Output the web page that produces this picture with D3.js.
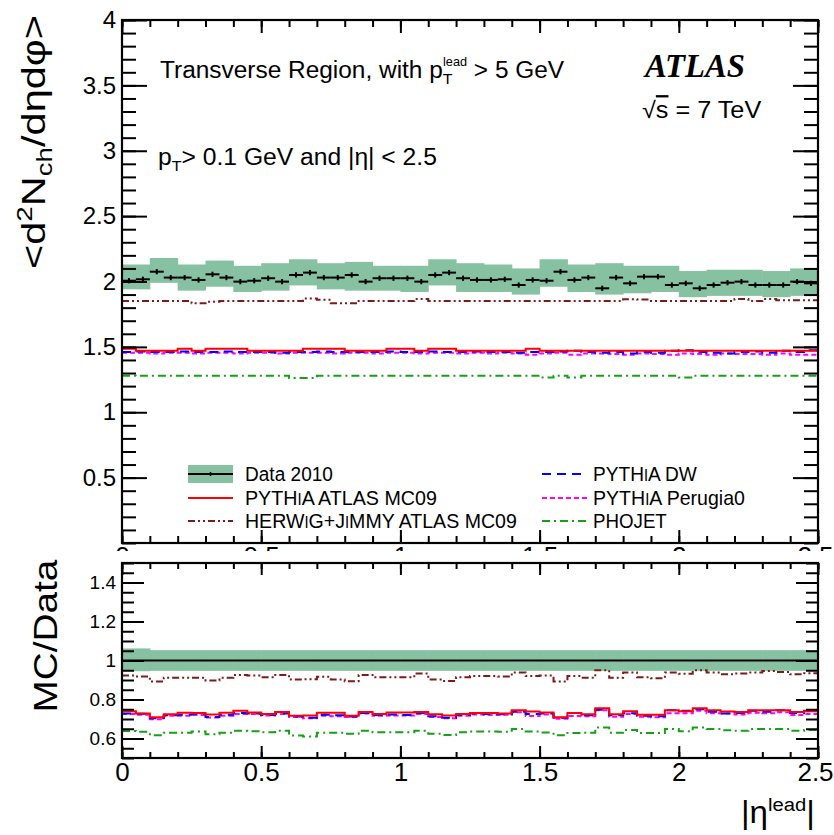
<!DOCTYPE html>
<html>
<head>
<meta charset="utf-8">
<script src="https://cdn.jsdelivr.net/npm/d3@7"></script>
<style>
  body { margin: 0; background: #fff; }
  text { font-family: "Liberation Sans", Arial, Helvetica, sans-serif; fill: #000; }
</style>
</head>
<body>
<div id="chart"></div>
<script>
// ---- data ----
// 50 bins of |eta_lead|, width 0.05
const etaBins = d3.range(50).map(i => +(i * 0.05).toFixed(2));
const binWidth = 0.05;

const dataVal = [
  2.006, 2.017, 2.075, 2.030, 2.030, 2.012, 2.055, 2.030, 1.999, 2.006,
  2.025, 1.999, 2.050, 2.068, 2.030, 2.030, 2.050, 1.999, 2.025, 2.025,
  2.025, 1.999, 2.050, 2.068, 2.025, 2.012, 2.012, 2.017, 1.973, 2.012,
  2.006, 2.075, 2.012, 2.030, 1.948, 2.030, 1.986, 2.037, 2.037, 1.973,
  1.986, 1.948, 1.973, 1.991, 1.999, 1.973, 1.973, 1.973, 1.999, 1.986
];
const statErr = 0.02;

// systematic band, steps of 0.1 in |eta_lead|
const bandEdges = d3.range(25).map(i => +(i * 0.1).toFixed(1));
const bandLo = [1.94, 1.99, 1.93, 1.96, 1.92, 1.93, 1.97, 1.94, 1.93, 1.93,
                1.92, 1.97, 1.92, 1.92, 1.90, 1.96, 1.92, 1.90, 1.91, 1.92,
                1.88, 1.89, 1.89, 1.88, 1.89];
const bandHi = [2.13, 2.18, 2.13, 2.16, 2.12, 2.14, 2.17, 2.14, 2.15, 2.12,
                2.12, 2.17, 2.14, 2.13, 2.10, 2.17, 2.13, 2.14, 2.12, 2.12,
                2.08, 2.09, 2.09, 2.08, 2.10];
const ratioBandLo = [0.945, 0.947, 0.947, 0.947, 0.947, 0.947, 0.947, 0.947, 0.947, 0.947,
                     0.947, 0.947, 0.947, 0.947, 0.947, 0.947, 0.947, 0.947, 0.947, 0.947,
                     0.947, 0.947, 0.947, 0.947, 0.947];
const ratioBandHi = [1.062, 1.053, 1.053, 1.053, 1.053, 1.053, 1.053, 1.053, 1.053, 1.053,
                     1.053, 1.053, 1.053, 1.053, 1.053, 1.053, 1.053, 1.053, 1.053, 1.053,
                     1.053, 1.053, 1.053, 1.053, 1.053];

const pythiaMC09 = [
  1.485, 1.470, 1.470, 1.470, 1.485, 1.470, 1.485, 1.485, 1.485, 1.470,
  1.470, 1.470, 1.470, 1.485, 1.485, 1.485, 1.470, 1.470, 1.470, 1.485,
  1.485, 1.470, 1.485, 1.485, 1.470, 1.470, 1.470, 1.470, 1.470, 1.485,
  1.470, 1.470, 1.470, 1.470, 1.470, 1.470, 1.470, 1.470, 1.470, 1.470,
  1.470, 1.470, 1.470, 1.470, 1.470, 1.470, 1.470, 1.470, 1.470, 1.470
];
const herwigMC09 = [
  1.851, 1.851, 1.851, 1.851, 1.851, 1.833, 1.845, 1.851, 1.851, 1.851,
  1.851, 1.851, 1.851, 1.870, 1.860, 1.833, 1.833, 1.851, 1.851, 1.851,
  1.851, 1.866, 1.851, 1.851, 1.851, 1.851, 1.851, 1.851, 1.851, 1.851,
  1.851, 1.851, 1.851, 1.851, 1.851, 1.851, 1.865, 1.862, 1.851, 1.851,
  1.851, 1.851, 1.851, 1.851, 1.866, 1.851, 1.866, 1.857, 1.857, 1.857
];
const pythiaDW = [
  1.460, 1.465, 1.460, 1.460, 1.465, 1.460, 1.460, 1.465, 1.460, 1.460,
  1.460, 1.455, 1.460, 1.460, 1.465, 1.460, 1.460, 1.460, 1.460, 1.465,
  1.460, 1.460, 1.465, 1.460, 1.460, 1.465, 1.460, 1.460, 1.455, 1.460,
  1.460, 1.465, 1.470, 1.460, 1.455, 1.460, 1.450, 1.460, 1.455, 1.470,
  1.475, 1.460, 1.455, 1.450, 1.460, 1.465, 1.455, 1.470, 1.460, 1.475
];
const pythiaPerugia0 = [
  1.455, 1.455, 1.450, 1.455, 1.455, 1.450, 1.455, 1.455, 1.450, 1.455,
  1.455, 1.450, 1.455, 1.455, 1.455, 1.450, 1.455, 1.455, 1.450, 1.455,
  1.455, 1.450, 1.455, 1.455, 1.450, 1.455, 1.450, 1.455, 1.450, 1.440,
  1.450, 1.455, 1.440, 1.450, 1.450, 1.445, 1.440, 1.450, 1.445, 1.440,
  1.450, 1.445, 1.440, 1.450, 1.445, 1.445, 1.440, 1.450, 1.440, 1.440
];
const phojet = [
  1.280, 1.279, 1.279, 1.279, 1.279, 1.279, 1.279, 1.279, 1.279, 1.279,
  1.279, 1.279, 1.262, 1.262, 1.279, 1.279, 1.279, 1.279, 1.279, 1.279,
  1.279, 1.279, 1.279, 1.279, 1.279, 1.279, 1.279, 1.279, 1.279, 1.279,
  1.265, 1.279, 1.265, 1.279, 1.279, 1.279, 1.279, 1.279, 1.279, 1.279,
  1.265, 1.279, 1.279, 1.279, 1.279, 1.279, 1.279, 1.279, 1.279, 1.279
];

const xTicks = [0, 0.5, 1, 1.5, 2, 2.5];
const topYTicks = [0.5, 1, 1.5, 2, 2.5, 3, 3.5, 4];
const botYTicks = [0.6, 0.8, 1, 1.2, 1.4];

// ---- styles ----
const mcSeries = [
  { name: "PYTHIA ATLAS MC09",       values: pythiaMC09,     color: "#ff0000", dash: null },
  { name: "HERWIG+JIMMY ATLAS MC09", values: herwigMC09,     color: "#7d1a1a", dash: "7,3,2,3,2,3" },
  { name: "PYTHIA DW",               values: pythiaDW,       color: "#0000ff", dash: "9,6" },
  { name: "PYTHIA Perugia0",         values: pythiaPerugia0, color: "#ff00ff", dash: "5,3" },
  { name: "PHOJET",                  values: phojet,         color: "#16a016", dash: "8,4,2,4" }
];
const bandColor = "#86c1a1";

const width = 834, height = 835;
const svg = d3.select("#chart").append("svg")
  .attr("width", width).attr("height", height);

const x = d3.scaleLinear().domain([0, 2.5]).range([122, 818]);
const yTop = d3.scaleLinear().domain([0, 4]).range([543, 20]);
const yBot = d3.scaleLinear().domain([0.5, 1.5]).range([758, 563]);

// step path over bins
function stepPath(vals, y) {
  const pts = etaBins.map((e, i) => [e, vals[i]]);
  pts.push([2.5, vals[vals.length - 1]]);
  return d3.line().x(d => x(d[0])).y(d => y(d[1])).curve(d3.curveStepAfter)(pts);
}

// ---- top panel ----
const topG = svg.append("g");

topG.selectAll("rect.band").data(bandEdges).join("rect")
  .attr("class", "band")
  .attr("x", d => x(d))
  .attr("width", x(0.1) - x(0) + 0.5)
  .attr("y", (d, i) => yTop(bandHi[i]))
  .attr("height", (d, i) => yTop(bandLo[i]) - yTop(bandHi[i]))
  .attr("fill", bandColor);

mcSeries.slice().reverse().forEach(s => {
  topG.append("path")
    .attr("d", stepPath(s.values, yTop))
    .attr("fill", "none")
    .attr("stroke", s.color)
    .attr("stroke-width", 2)
    .attr("stroke-dasharray", s.dash);
});

// data points
const pts = topG.append("g").attr("stroke", "#000").attr("stroke-width", 2);
pts.selectAll("line.h").data(etaBins).join("line").attr("class", "h")
  .attr("x1", d => x(d)).attr("x2", d => x(d + binWidth))
  .attr("y1", (d, i) => yTop(dataVal[i])).attr("y2", (d, i) => yTop(dataVal[i]));
pts.selectAll("line.v").data(etaBins).join("line").attr("class", "v")
  .attr("x1", d => x(d + binWidth / 2)).attr("x2", d => x(d + binWidth / 2))
  .attr("y1", (d, i) => yTop(dataVal[i] - statErr)).attr("y2", (d, i) => yTop(dataVal[i] + statErr));

// ---- bottom panel ----
const botG = svg.append("g");
botG.selectAll("rect.band").data(bandEdges).join("rect")
  .attr("class", "band")
  .attr("x", d => x(d))
  .attr("width", x(0.1) - x(0) + 0.5)
  .attr("y", (d, i) => yBot(ratioBandHi[i]))
  .attr("height", (d, i) => yBot(ratioBandLo[i]) - yBot(ratioBandHi[i]))
  .attr("fill", bandColor);

botG.append("path")
  .attr("d", stepPath(dataVal.map(() => 1), yBot))
  .attr("fill", "none").attr("stroke", "#000").attr("stroke-width", 2);

mcSeries.slice().reverse().forEach(s => {
  botG.append("path")
    .attr("d", stepPath(s.values.map((v, i) => v / dataVal[i]), yBot))
    .attr("fill", "none")
    .attr("stroke", s.color)
    .attr("stroke-width", 2)
    .attr("stroke-dasharray", s.dash);
});

// ---- axes / frames ----
function minorTicks(lo, hi, step) {
  return d3.range(Math.round((hi - lo) / step) + 1).map(i => +(lo + i * step).toFixed(3));
}
function styleAxis(g) {
  g.select(".domain").remove();
  g.selectAll(".tick line").attr("stroke", "#000").attr("stroke-width", 2);
  return g;
}

function panelAxes(y, yMajor, yMinor, yLabelVals, yFont, yMaj, yMin, xMaj, xMin, x0, x1, y0, y1, opt) {
  const fmt = d3.format("~g");
  // left
  svg.append("g").attr("transform", `translate(${x0},0)`)
    .call(d3.axisLeft(y).tickValues(yMinor).tickSizeInner(-yMin).tickSizeOuter(0).tickFormat(""))
    .call(styleAxis);
  svg.append("g").attr("transform", `translate(${x0},0)`)
    .call(d3.axisLeft(y).tickValues(yMajor).tickSizeInner(-yMaj).tickSizeOuter(0).tickPadding(6)
      .tickFormat(d => yLabelVals.includes(d) ? fmt(d) : ""))
    .call(styleAxis)
    .call(g => g.selectAll("text").attr("font-size", yFont).attr("fill", "#000")
      .style("font-family", "'Liberation Sans', Arial, sans-serif"));
  // right
  svg.append("g").attr("transform", `translate(${x1},0)`)
    .call(d3.axisRight(y).tickValues(yMinor).tickSizeInner(-yMin).tickSizeOuter(0).tickFormat(""))
    .call(styleAxis);
  svg.append("g").attr("transform", `translate(${x1},0)`)
    .call(d3.axisRight(y).tickValues(yMajor).tickSizeInner(-yMaj).tickSizeOuter(0).tickFormat(""))
    .call(styleAxis);
  // top / bottom
  const xMinorVals = minorTicks(0, 2.5, 0.1);
  svg.append("g").attr("transform", `translate(0,${y0})`)
    .call(d3.axisTop(x).tickValues(xMinorVals).tickSizeInner(-xMin).tickSizeOuter(0).tickFormat(""))
    .call(styleAxis);
  svg.append("g").attr("transform", `translate(0,${y0})`)
    .call(d3.axisTop(x).tickValues(xTicks).tickSizeInner(-xMaj).tickSizeOuter(0).tickFormat(""))
    .call(styleAxis);
  svg.append("g").attr("transform", `translate(0,${y1})`)
    .call(d3.axisBottom(x).tickValues(xMinorVals).tickSizeInner(-xMin).tickSizeOuter(0).tickFormat(""))
    .call(styleAxis);
  const xb = svg.append("g").attr("transform", `translate(0,${y1})`)
    .call(d3.axisBottom(x).tickValues(xTicks).tickSizeInner(-xMaj).tickSizeOuter(0).tickPadding(opt.pad)
      .tickFormat(fmt))
    .call(styleAxis);
  xb.selectAll("text").attr("font-size", 26).attr("fill", "#000")
    .style("font-family", "'Liberation Sans', Arial, sans-serif")
    .attr("dx", d => d === 2.5 ? -3 : 0);
  if (opt.clip) xb.attr("clip-path", "url(#cutLabels)");
  svg.append("rect").attr("x", x0).attr("y", y0).attr("width", x1 - x0).attr("height", y1 - y0)
    .attr("fill", "none").attr("stroke", "#000").attr("stroke-width", 2.2);
}

// the top panel's x labels are hidden behind the lower panel, only their tops show
svg.append("clipPath").attr("id", "cutLabels").attr("clipPathUnits", "userSpaceOnUse")
  .append("rect").attr("x", -50).attr("y", -40).attr("width", 950).attr("height", 48);

panelAxes(yTop, minorTicks(0.5, 4, 0.5), minorTicks(0, 4, 0.1), topYTicks, 24,
  25, 14, 13, 7, 122, 818, 20, 543, { pad: 4, clip: true });
panelAxes(yBot, minorTicks(0.6, 1.4, 0.2), minorTicks(0.5, 1.5, 0.05), botYTicks, 19,
  22, 12, 12, 6, 122, 818, 563, 758, { pad: 5, clip: false });

// ---- labels ----
function fitted(xp, yp, rot, target, anchor, build) {
  const g = svg.append("g").attr("transform", `translate(${xp},${yp}) rotate(${rot})`);
  const t = g.append("text").attr("text-anchor", anchor);
  build(t);
  const w = t.node().getBBox().width;
  t.attr("transform", `scale(${target / w},1)`);
  return t;
}

// y axis titles
fitted(45, 142, -90, 254, "middle", t => {
  t.attr("font-size", 33);
  t.append("tspan").text("<d");
  t.append("tspan").attr("font-size", 22).attr("dy", -13).text("2");
  t.append("tspan").attr("dy", 13).text("N");
  t.append("tspan").attr("font-size", 22).attr("dy", 7).text("ch");
  t.append("tspan").attr("dy", -7).text("/dηdφ>");
});
fitted(57, 636, -90, 153, "middle", t => t.attr("font-size", 34).text("MC/Data"));

// x axis title
fitted(741, 823, 0, 74, "start", t => {
  t.attr("font-size", 31);
  t.append("tspan").text("|η");
  t.append("tspan").attr("font-size", 19).attr("dy", -12).text("lead");
  t.append("tspan").attr("dy", 12).text("|");
});

// annotations
fitted(160, 78, 0, 405, "start", t => {
  t.attr("font-size", 23);
  t.append("tspan").text("Transverse Region, with p");
  t.append("tspan").attr("font-size", 15).attr("dy", 6).text("T");
  t.append("tspan").attr("font-size", 12).attr("dx", -9).attr("dy", -18).text("lead");
  t.append("tspan").attr("dy", 12).text(" > 5 GeV");
});
fitted(158, 165, 0, 279, "start", t => {
  t.attr("font-size", 23);
  t.append("tspan").text("p");
  t.append("tspan").attr("font-size", 15).attr("dy", 6).text("T");
  t.append("tspan").attr("dy", -6).text(">  0.1 GeV and |η| < 2.5");
});
fitted(645, 77, 0, 102, "start", t => t.attr("font-size", 33)
  .style("font-family", "'Liberation Serif', 'Times New Roman', serif")
  .attr("font-weight", "bold").attr("font-style", "italic").text("ATLAS"));
fitted(642, 118, 0, 120, "start", t => {
  t.attr("font-size", 23);
  t.append("tspan").text("√");
  t.append("tspan").style("text-decoration", "overline").text("s");
  t.append("tspan").text(" = 7 TeV");
});

// ---- legend ----
const legendRows = [
  { name: "Data 2010", kind: "data", col: 0, row: 0, w: 88 },
  { name: mcSeries[0].name, s: mcSeries[0], col: 0, row: 1, w: 192 },
  { name: mcSeries[1].name, s: mcSeries[1], col: 0, row: 2, w: 272 },
  { name: mcSeries[2].name, s: mcSeries[2], col: 1, row: 0, w: 104 },
  { name: mcSeries[3].name, s: mcSeries[3], col: 1, row: 1, w: 152 },
  { name: mcSeries[4].name, s: mcSeries[4], col: 1, row: 2, w: 74 }
];
const legX = [188, 542], legTextX = [245, 593], legY = [473, 497, 520];

function smallI(t, name) {
  // the figure renders the "I" of PYTHIA / HERWIG / JIMMY slightly smaller
  name.split(/(I)/).forEach(p => {
    if (p === "I") t.append("tspan").attr("font-size", 16).text("I");
    else t.append("tspan").text(p);
  });
}

legendRows.forEach(r => {
  const lx = legX[r.col], ly = legY[r.row];
  if (r.kind === "data") {
    svg.append("rect").attr("x", lx).attr("y", ly - 8).attr("width", 45).attr("height", 18).attr("fill", bandColor);
    svg.append("line").attr("x1", lx).attr("x2", lx + 45).attr("y1", ly + 1).attr("y2", ly + 1)
      .attr("stroke", "#000").attr("stroke-width", 2);
    svg.append("line").attr("x1", lx + 22.5).attr("x2", lx + 22.5).attr("y1", ly - 1).attr("y2", ly + 3)
      .attr("stroke", "#000").attr("stroke-width", 1.5);
  } else {
    svg.append("line").attr("x1", lx).attr("x2", lx + 45).attr("y1", ly + 1).attr("y2", ly + 1)
      .attr("stroke", r.s.color).attr("stroke-width", 2).attr("stroke-dasharray", r.s.dash);
  }
  fitted(legTextX[r.col], ly + 8, 0, r.w, "start", t => {
    t.attr("font-size", 21);
    if (r.kind === "data") t.text(r.name); else smallI(t, r.name);
  });
});
</script>
</body>
</html>
